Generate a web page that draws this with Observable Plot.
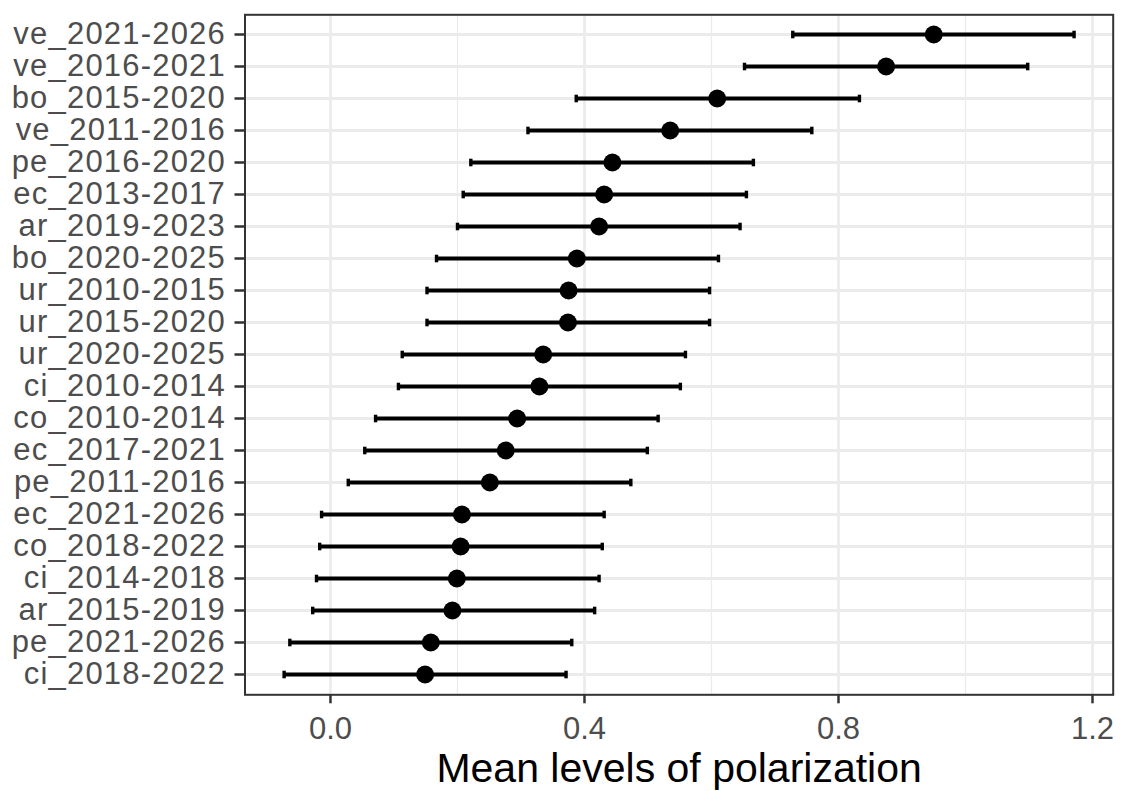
<!DOCTYPE html>
<html>
<head>
<meta charset="utf-8">
<script src="https://cdn.jsdelivr.net/npm/d3@7"></script>
<script src="https://cdn.jsdelivr.net/npm/@observablehq/plot@0.6"></script>
<style>
  body { margin: 0; background: #fff; }
  #chart svg [aria-label="y-axis tick label"] text { letter-spacing: 1.2px; }
</style>
</head>
<body>
<div id="chart"></div>
<script>
// Country-period combinations, top to bottom
const periods = [
  "ve_2021-2026", "ve_2016-2021", "bo_2015-2020", "ve_2011-2016", "pe_2016-2020",
  "ec_2013-2017", "ar_2019-2023", "bo_2020-2025", "ur_2010-2015", "ur_2015-2020",
  "ur_2020-2025", "ci_2010-2014", "co_2010-2014", "ec_2017-2021", "pe_2011-2016",
  "ec_2021-2026", "co_2018-2022", "ci_2014-2018", "ar_2015-2019", "pe_2021-2026",
  "ci_2018-2022"
];

// Mean polarization and interval bounds per period
const meanPolarization = [
  0.950, 0.875, 0.609, 0.535, 0.444,
  0.431, 0.423, 0.388, 0.375, 0.374,
  0.335, 0.329, 0.294, 0.276, 0.251,
  0.207, 0.205, 0.199, 0.192, 0.158,
  0.149
];
const lowerBound = [
  0.728, 0.652, 0.387, 0.311, 0.221,
  0.209, 0.200, 0.167, 0.152, 0.152,
  0.113, 0.107, 0.071, 0.054, 0.028,
  -0.014, -0.017, -0.022, -0.028, -0.064,
  -0.073
];
const upperBound = [
  1.171, 1.098, 0.833, 0.758, 0.666,
  0.655, 0.645, 0.611, 0.597, 0.597,
  0.559, 0.551, 0.516, 0.499, 0.473,
  0.431, 0.428, 0.423, 0.416, 0.380,
  0.371
];

// Axis ticks
const xTicks = [0, 0.4, 0.8, 1.2];
const xMinorTicks = [0.2, 0.6, 1.0];
const xTitle = "Mean levels of polarization";

const rows = periods.map((period, i) => ({
  period,
  mean: meanPolarization[i],
  lower: lowerBound[i],
  upper: upperBound[i]
}));

// Short vertical stroke used for the error-bar end caps
const capSymbol = {
  draw(context, size) {
    const h = Math.sqrt(size / Math.PI);
    context.moveTo(0, -h);
    context.lineTo(0, h);
  }
};

const grid = "#EBEBEB";
const ink = "#333333";
const labelColor = "#4D4D4D";

const chart = Plot.plot({
  width: 1121,
  height: 791,
  marginLeft: 244.5,
  marginRight: 8.3,
  marginTop: 14.3,
  marginBottom: 96.7,
  style: { fontFamily: "'Liberation Sans', Arial, sans-serif", background: "#fff" },
  x: { domain: [-0.1346, 1.2326] },
  y: { type: "point", domain: periods, padding: 0.6 },
  marks: [
    Plot.ruleX(xMinorTicks, { stroke: grid, strokeWidth: 1.3 }),
    Plot.ruleX(xTicks, { stroke: grid, strokeWidth: 2.6 }),
    Plot.ruleY(periods, { stroke: grid, strokeWidth: 2.8 }),
    Plot.ruleY(rows, { y: "period", x1: "lower", x2: "upper", stroke: "black", strokeWidth: 4 }),
    Plot.dot(rows, { x: "lower", y: "period", symbol: capSymbol, r: 3.8, stroke: "black", strokeWidth: 3.4 }),
    Plot.dot(rows, { x: "upper", y: "period", symbol: capSymbol, r: 3.8, stroke: "black", strokeWidth: 3.4 }),
    Plot.dot(rows, { x: "mean", y: "period", r: 9, fill: "black" }),
    Plot.frame({ stroke: ink, strokeWidth: 2 }),
    Plot.axisX({
      ticks: xTicks, tickFormat: d3.format(".1f"), tickSize: 9, tickPadding: 13,
      fontSize: 31, fill: labelColor, stroke: ink, strokeWidth: 2.5, label: null
    }),
    Plot.axisY({
      tickSize: 10, tickPadding: 9, fontSize: 31,
      fill: labelColor, stroke: ink, strokeWidth: 2.5, label: null
    }),
    Plot.text([xTitle], {
      frameAnchor: "bottom", dy: 87.5, lineAnchor: "bottom", fontSize: 41, fill: "black"
    })
  ]
});

document.getElementById("chart").appendChild(chart);
</script>
</body>
</html>
